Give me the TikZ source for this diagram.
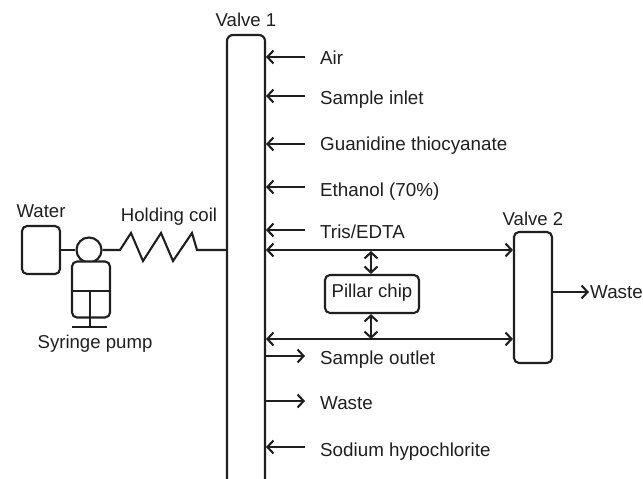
\documentclass[tikz,border=0pt]{standalone}
\usepackage{fontspec}
\setmainfont{Liberation Sans}
\usetikzlibrary{arrows.meta,calc}
\tikzset{
  x=1pt,y=-1pt,
  ln/.style={line width=2.1pt,color=black!88},
  arr/.style={ln,-{Straight Barb[length=6pt,width=13pt,line width=2.1pt]}},
  darr/.style={ln,{Straight Barb[length=6pt,width=13pt,line width=2.1pt]}-{Straight Barb[length=6pt,width=13pt,line width=2.1pt]}},
  txt/.style={inner sep=0pt,font=\fontsize{18.8}{22}\selectfont,text=black!88,anchor=base west},
  lbl/.style={inner sep=0pt,font=\fontsize{18.6}{22}\selectfont,text=black!88,anchor=base},
  box/.style={ln,draw,rounded corners=5pt,inner sep=0pt,fill=white},
}
\begin{document}
\begin{tikzpicture}
\useasboundingbox (0,0) rectangle (643,479);
% Valve 1 (open at the bottom edge)
\coordinate (v1tl) at (227,35);
\coordinate (v1tr) at (265,35);
\coordinate (v1bl) at (227,479);
\coordinate (v1br) at (265,479);
\draw[ln,rounded corners=6pt] (v1bl) -- (v1tl) -- (v1tr) -- (v1br);
% nodes
\node[box,minimum width=38pt,minimum height=131pt] (v2) at (533,297.5) {};
\node[box,minimum width=94pt,minimum height=38pt] (chip) at (372,294) {};
\node[inner sep=0pt,font=\fontsize{18.6}{22}\selectfont,text=black!88] (chiptxt) at (372,292.5) {Pillar chip};
\node[box,minimum width=38pt,minimum height=48pt] (water) at (41,250) {};
\node[ln,draw,circle,minimum size=25pt,inner sep=0pt] (valve) at (89,250) {};
\node[box,minimum width=38pt,minimum height=56pt] (pump) at (91,289.5) {};
% syringe details
\coordinate (pumpmidL) at (72,291);
\coordinate (pumpmidR) at (110,291);
\coordinate (plungerTop) at (90,291);
\coordinate (plungerEnd) at (90,327);
\coordinate (baseL) at (72,327);
\coordinate (baseR) at (107,327);
\draw[ln] (pumpmidL) -- (pumpmidR);
\draw[ln] (plungerTop) -- (plungerEnd);
\draw[ln] (baseL) -- (baseR);
% coil
\coordinate (coilin) at (120,250);
\coordinate (v1coil) at (227,250);
\draw[ln] (water.east |- valve.west) -- (valve.west);
\draw[ln] (valve.east) -- (coilin) -- (131,233) -- (143,261) -- (161,233) -- (173,261) -- (192,233) -- (197,250) -- (v1coil);
% inlet arrows
\foreach \n/\y in {air/57,si/96,gu/144,et/187,tr/230,so/447}{
  \coordinate (\n a) at (305,\y);
  \coordinate (\n b) at (266,\y);
  \draw[arr] (\n a) -- (\n b);
}
% outlet arrows
\foreach \n/\y in {sa/356,wa/401}{
  \coordinate (\n a) at (266,\y);
  \coordinate (\n b) at (305,\y);
  \draw[arr] (\n a) -- (\n b);
}
% valve-to-valve lines
\coordinate (t1) at (266,250);
\coordinate (b1) at (266,339);
\draw[darr] (t1) -- (t1 -| v2.west);
\draw[darr] (b1) -- (b1 -| v2.west);
\coordinate (tc) at (371,251);
\coordinate (bc) at (371,339);
\draw[darr] (tc) -- (chip.north -| tc);
\draw[darr] (chip.south -| bc) -- (bc);
% waste out
\coordinate (wasteout) at (589,292);
\draw[arr] (v2.east |- wasteout) -- (wasteout);
% labels
\node[txt] (lair) at (320,64.5) {Air};
\node[txt] (lsi) at (320,104.5) {Sample inlet};
\node[txt] (lgu) at (320,150.5) {Guanidine thiocyanate};
\node[txt] (let) at (320,196) {Ethanol (70\%)};
\node[txt] (ltr) at (320,238.5) {Tris/EDTA};
\node[txt] (lsa) at (320,364.5) {Sample outlet};
\node[txt] (lwa) at (320,409.5) {Waste};
\node[txt] (lso) at (320,456) {Sodium hypochlorite};
\node[lbl] (lv1) at (246,27) {Valve 1};
\node[lbl] (lv2) at (533,225) {Valve 2};
\node[txt] (lwo) at (590,298.5) {Waste};
\node[lbl] (lwater) at (41,217.5) {Water};
\node[lbl] (lcoil) at (169,221.5) {Holding coil};
\node[lbl] (lpump) at (95,348) {Syringe pump};
\end{tikzpicture}
\end{document}
